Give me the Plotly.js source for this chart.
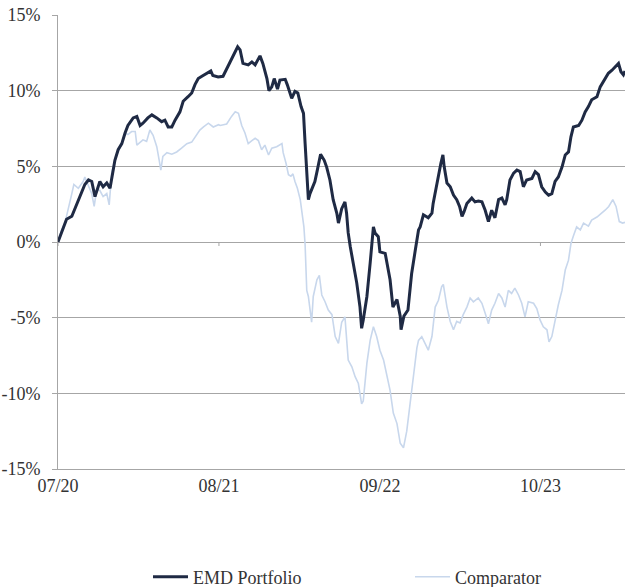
<!DOCTYPE html>
<html>
<head>
<meta charset="utf-8">
<script src="https://cdn.plot.ly/plotly-3.0.1.min.js"></script>
<style>html,body{margin:0;padding:0;background:#fff;}#chart{width:625px;height:587px;}</style>
</head>
<body>
<div id="chart"></div>
<script>
// Days since 2020-07-01 and cumulative return (%)
const emdDays = [0,9,21,34,42,54,66,75,83,91,99,103,111,120,128,135,140,148,157,165,172,185,194,202,209,221,231,243,255,263,271,280,288,300,308,320,329,337,345,354,366,376,381,394,406,418,431,442,448,455,468,477,485,497,504,514,519,526,532,540,546,559,564,575,583,590,598,604,608,610,614,616,620,627,632,638,646,655,661,669,677,686,690,698,706,710,714,719,726,735,743,747,751,760,768,774,776,780,788,792,805,817,824,834,842,844,851,861,870,879,887,891,895,899,911,920,923,928,936,942,947,950,957,965,973,981,988,994,999,1006,1018,1026,1034,1043,1051,1059,1067,1075,1084,1092,1100,1104,1112,1121,1129,1137,1145,1153,1166,1174,1182,1190,1199,1207,1215,1223,1231,1240,1248,1256,1262,1268,1281,1289,1297,1305,1313,1326,1334,1344,1354,1363,1371,1379,1385,1391,1395];
const emdValues = [0.0,0.6,1.5,1.7,2.2,3.0,3.8,4.1,4.0,3.0,3.65,4.0,3.65,3.9,3.55,4.55,5.4,6.1,6.5,7.2,7.7,8.2,8.3,7.7,7.85,8.2,8.4,8.2,7.95,8.05,7.6,7.6,8.05,8.6,9.3,9.6,9.85,10.4,10.8,10.95,11.15,11.3,11.0,10.9,10.95,11.6,12.25,12.9,12.7,11.8,11.7,11.9,11.7,12.3,11.8,10.8,10.0,10.25,10.8,10.1,10.7,10.75,10.4,9.5,9.95,9.85,8.95,8.5,6.5,5.65,4.3,2.8,3.2,3.65,4.0,4.75,5.8,5.4,4.95,4.1,2.8,1.9,1.25,2.2,2.65,1.9,0.6,-0.3,-1.4,-2.7,-4.3,-5.7,-5.15,-3.6,-1.4,0.8,1.0,0.6,0.35,-0.65,-0.75,-2.5,-4.3,-3.8,-4.9,-5.8,-4.9,-4.5,-2.1,-0.55,0.8,1.0,1.45,1.8,1.6,1.9,2.55,3.3,4.3,5.2,5.75,5.0,3.9,3.65,3.1,2.8,2.35,1.7,2.0,2.55,2.9,2.65,2.7,2.65,2.1,1.35,2.1,1.6,2.8,2.9,2.45,2.8,4.1,4.55,4.75,4.65,3.65,4.1,4.2,4.65,4.45,3.65,3.3,3.1,3.2,4.0,4.3,4.95,5.75,5.95,6.95,7.6,7.7,8.05,8.6,8.95,9.4,9.6,10.25,10.7,11.15,11.35,11.6,11.8,11.25,11.05,11.3];

const cmpDays = [0,9,17,25,34,39,50,62,66,72,83,89,95,103,111,120,126,132,140,148,157,165,172,181,190,194,202,209,218,226,234,243,249,253,258,268,280,292,304,317,329,341,349,358,370,382,395,399,415,427,436,444,452,460,468,477,485,493,501,509,518,526,538,551,554,561,567,573,578,583,589,596,600,605,608,612,616,624,628,637,643,649,657,665,674,682,690,698,706,714,723,731,739,747,751,760,768,776,784,792,801,809,817,825,834,842,850,858,866,874,883,887,895,903,911,920,928,936,944,948,957,965,973,981,989,997,1006,1014,1022,1034,1043,1051,1059,1067,1075,1084,1092,1100,1108,1116,1124,1133,1141,1149,1157,1170,1178,1186,1194,1203,1208,1215,1223,1231,1240,1248,1256,1262,1268,1276,1285,1293,1305,1313,1326,1338,1346,1355,1365,1373,1381,1389,1395];
const cmpValues = [0.0,0.8,1.25,2.1,3.2,3.8,3.55,4.0,4.3,3.9,3.2,2.35,3.45,3.4,3.0,3.2,2.45,4.55,5.4,6.0,6.5,7.2,7.1,7.3,7.3,6.4,6.6,6.75,6.65,7.4,7.05,6.3,5.4,4.75,5.65,5.9,5.8,5.95,6.2,6.5,6.6,7.05,7.4,7.6,7.85,7.6,7.75,7.7,7.8,8.3,8.6,8.5,7.7,7.2,6.5,6.7,6.85,6.7,6.1,6.4,5.75,6.2,6.3,6.5,5.9,5.2,4.45,4.35,4.5,4.0,3.55,2.8,1.9,1.0,-0.2,-3.2,-3.6,-5.3,-3.6,-2.5,-2.2,-3.5,-3.95,-4.5,-4.8,-6.25,-6.7,-5.3,-4.95,-7.8,-8.25,-8.9,-9.35,-10.7,-10.5,-8.0,-6.5,-5.6,-6.25,-7.15,-7.8,-8.7,-9.8,-11.3,-12.0,-13.3,-13.6,-12.5,-10.6,-9.0,-7.0,-6.5,-6.25,-6.7,-7.15,-6.25,-4.3,-3.85,-2.95,-2.8,-4.3,-5.25,-5.8,-5.25,-5.35,-4.8,-4.3,-3.7,-3.95,-3.7,-4.05,-4.7,-5.4,-4.5,-4.05,-3.4,-3.7,-4.3,-3.2,-3.4,-3.05,-3.5,-4.05,-4.95,-3.95,-4.05,-4.4,-5.15,-5.6,-5.8,-6.6,-6.25,-5.15,-4.15,-3.2,-1.85,-1.2,-0.1,0.4,1.0,0.8,1.25,1.05,1.45,1.65,1.9,2.1,2.35,2.8,2.35,1.35,1.25,1.3];

const tickDates = ['2020-07-01','2021-08-01','2022-09-01','2023-10-01'];
const tickLabels = ['07/20','08/21','09/22','10/23'];
const yTicks = [-15,-10,-5,0,5,10,15];

const base = Date.UTC(2020,6,1);
const toDate = d => new Date(base + d*864e5).toISOString().slice(0,10);

const FONT = 'Liberation Serif';
const GRID = '#a6a6a6';
const TXT = '#333333';
const F = {family: FONT, size: 18, color: TXT};

const traces = [
  {x: cmpDays.map(toDate), y: cmpValues, name: 'Comparator', type: 'scatter', mode: 'lines',
   line: {color: '#c8d7ec', width: 1.6}, legend: 'legend2'},
  {x: emdDays.map(toDate), y: emdValues, name: 'EMD Portfolio', type: 'scatter', mode: 'lines',
   line: {color: '#1f2a44', width: 3}, legend: 'legend'}
];

// small tick marks on the 0% line at each date label
const tickShapes = tickDates.map(d => ({type: 'line', xref: 'x', yref: 'y', ysizemode: 'pixel', yanchor: 0,
  x0: d, x1: d, y0: 0, y1: -4, line: {color: GRID, width: 1}, layer: 'below'}));

const layout = {
  width: 625, height: 587,
  margin: {l: 58, r: 0, t: 15, b: 118, autoexpand: false},
  paper_bgcolor: '#fff', plot_bgcolor: '#fff',
  font: F,
  showlegend: true,
  legend: {orientation: 'h', itemwidth: 35, x: (148 - 58) / 567, xanchor: 'left', y: -0.238, yanchor: 'middle', font: F},
  legend2: {orientation: 'h', itemwidth: 35, x: (410 - 58) / 567, xanchor: 'left', y: -0.238, yanchor: 'middle', font: F},
  shapes: tickShapes,
  xaxis: {type: 'date', range: ['2020-07-01', '2024-04-26'], tickvals: tickDates, ticktext: tickLabels,
    showgrid: false, zeroline: false, showline: true, linecolor: GRID, linewidth: 1, ticks: '',
    tickfont: F, fixedrange: true},
  yaxis: {range: [-15, 15], tickvals: yTicks, ticktext: yTicks.map(v => v + '%'),
    showgrid: true, gridcolor: GRID, gridwidth: 1, zeroline: false, showline: true, linecolor: GRID,
    ticks: 'outside', ticklen: 5, tickcolor: GRID, ticklabelstandoff: 8,
    tickfont: F, fixedrange: true}
};

Plotly.newPlot('chart', traces, layout, {displayModeBar: false, staticPlot: true});
</script>
</body>
</html>
